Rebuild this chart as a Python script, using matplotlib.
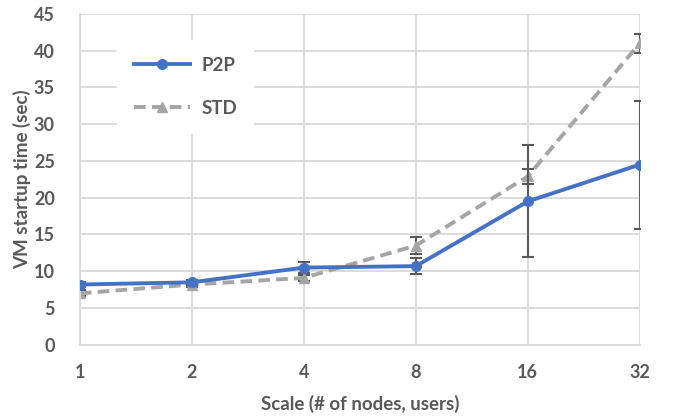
import numpy as np
import matplotlib.pyplot as plt

# --- data ---
scale_labels = ['1', '2', '4', '8', '16', '32']
p2p_time = [8.2, 8.5, 10.5, 10.7, 19.5, 24.5]
p2p_err = [0.3, 0.3, 0.7, 1.1, 7.6, 8.7]
std_time = [7.0, 8.2, 9.1, 13.5, 22.9, 41.0]
std_err = [0.4, 0.3, 0.4, 1.2, 1.0, 1.3]

blue = '#4472C4'
grey = '#A5A5A5'
text_col = '#595959'
grid_col = '#D9D9D9'

plt.rcParams['font.family'] = ['Lato', 'DejaVu Sans']

fig = plt.figure(figsize=(6.77, 4.18), dpi=100)
ax = fig.add_axes([0.118, 0.175, 0.827, 0.792])

x = np.arange(len(scale_labels))

ax.errorbar(x, p2p_time, yerr=p2p_err, color=blue, lw=2.8, marker='o', ms=7,
            ecolor=text_col, elinewidth=1.5, capsize=4, capthick=1.5,
            label='P2P', zorder=3)
ax.errorbar(x, std_time, yerr=std_err, color=grey, lw=2.8, ls=(0, (3, 1.6)),
            marker='^', ms=7, ecolor=text_col, elinewidth=1.5, capsize=4,
            capthick=1.5, label='STD', zorder=2)

ax.set_xlim(0, len(scale_labels) - 1)
ax.set_ylim(0, 45)
ax.set_yticks(np.arange(0, 46, 5))
ax.set_xticks(x)
ax.set_xticklabels(scale_labels)

ax.grid(True, color=grid_col, lw=1.3)
ax.set_axisbelow(True)
for s in ['top', 'right']:
    ax.spines[s].set_visible(False)
for s in ['left', 'bottom']:
    ax.spines[s].set_color(grid_col)
    ax.spines[s].set_linewidth(1.3)

ax.tick_params(length=0, labelsize=13, labelcolor=text_col)
ax.tick_params(axis='x', pad=14)
ax.tick_params(axis='y', pad=18)
for lab in ax.get_xticklabels() + ax.get_yticklabels():
    lab.set_fontweight('bold')

ax.set_ylabel('VM startup time (sec)', fontsize=13.5, fontweight='bold',
              color=text_col, labelpad=2)
ax.set_xlabel('Scale (# of nodes, users)', fontsize=13.5, fontweight='bold',
              color=text_col, labelpad=10)

handles, labels = ax.get_legend_handles_labels()
handles = [h[0] for h in handles]
leg = ax.legend(handles, labels, loc='upper left', bbox_to_anchor=(0.05, 0.95),
                frameon=True, fontsize=13.5, handlelength=3.0, labelspacing=1.4,
                handletextpad=0.6, borderpad=0.9)
leg.get_frame().set_edgecolor('none')
leg.get_frame().set_facecolor('white')
leg.get_frame().set_alpha(1)
for t in leg.get_texts():
    t.set_color(text_col)
    t.set_fontweight('bold')

fig.savefig('out.png', dpi=100)
